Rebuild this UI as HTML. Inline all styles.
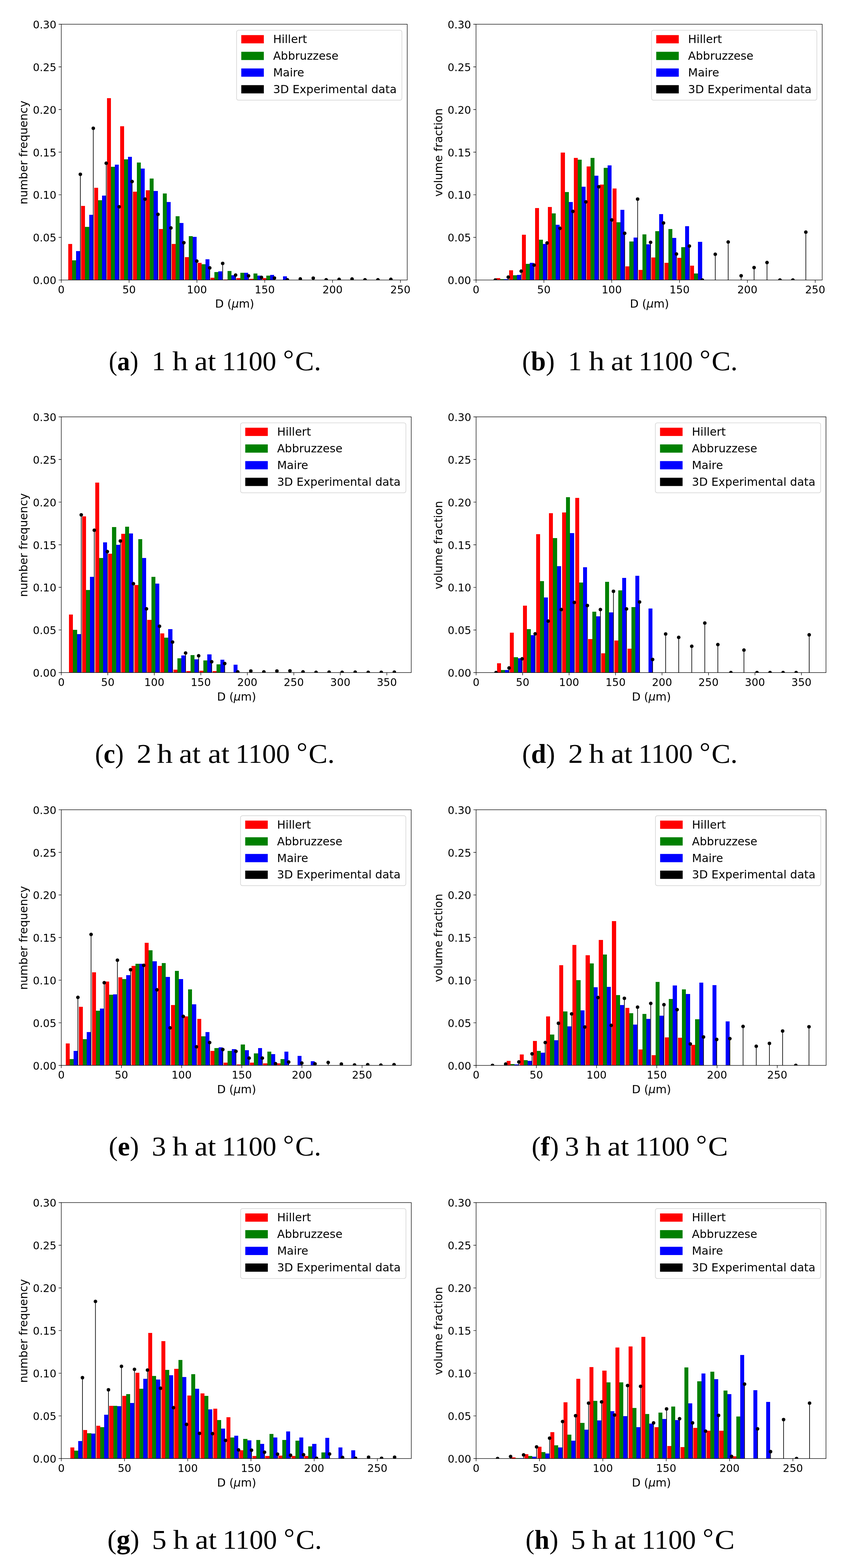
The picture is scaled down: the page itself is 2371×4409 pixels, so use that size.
<!DOCTYPE html>
<html><head><meta charset="utf-8"><title>Grain size distributions</title>
<style>
html,body{margin:0;padding:0;background:#fff;}
body{width:2371px;height:4409px;}
svg{display:block;}
</style></head><body>
<svg width="2371" height="4409" viewBox="0 0 2371 4409">
<rect width="2371" height="4409" fill="#fff"/>
<g id="panel-a">
<clipPath id="clip-a"><rect x="172.4" y="68.2" width="973" height="719.2"/></clipPath>
<g clip-path="url(#clip-a)">
<path fill="#ff0000" shape-rendering="crispEdges" d="M192.01 685.75h11.06v101.65h-11.06zM228.4 579.07h11.06v208.33h-11.06zM264.79 528.49h11.06v258.91h-11.06zM301.18 275.81h11.06v511.59h-11.06zM337.57 354.92h11.06v432.48h-11.06zM373.96 539.04h11.06v248.36h-11.06zM410.35 534.96h11.06v252.44h-11.06zM446.74 644.04h11.06v143.36h-11.06zM483.13 685.99h11.06v101.41h-11.06zM519.52 723.15h11.06v64.25h-11.06zM555.91 738.97h11.06v48.43h-11.06zM592.3 781.17h11.06v6.23h-11.06zM628.69 786.2h11.06v1.2h-11.06zM665.08 782.13h11.06v5.27h-11.06zM701.47 784.04h11.06v3.36h-11.06zM737.86 782.13h11.06v5.27h-11.06z"/>
<path fill="#008000" shape-rendering="crispEdges" d="M203.07 732.02h11.06v55.38h-11.06zM239.46 638.05h11.06v149.35h-11.06zM275.85 562.77h11.06v224.63h-11.06zM312.24 469.03h11.06v318.37h-11.06zM348.63 447.94h11.06v339.46h-11.06zM385.02 457.05h11.06v330.35h-11.06zM421.41 501.88h11.06v285.52h-11.06zM457.8 544.07h11.06v243.33h-11.06zM494.19 608.08h11.06v179.32h-11.06zM530.58 664.18h11.06v123.22h-11.06zM566.97 743.05h11.06v44.35h-11.06zM603.36 765.1h11.06v22.3h-11.06zM639.75 762.23h11.06v25.17h-11.06zM676.14 767.26h11.06v20.14h-11.06zM712.53 769.18h11.06v18.22h-11.06zM748.92 775.17h11.06v12.23h-11.06z"/>
<path fill="#0000ff" shape-rendering="crispEdges" d="M214.14 705.89h11.06v81.51h-11.06zM250.53 604h11.06v183.4h-11.06zM286.92 550.06h11.06v237.34h-11.06zM323.31 463.04h11.06v324.36h-11.06zM359.7 440.99h11.06v346.41h-11.06zM396.09 474.07h11.06v313.33h-11.06zM432.48 536.88h11.06v250.52h-11.06zM468.87 568.04h11.06v219.36h-11.06zM505.26 627.02h11.06v160.38h-11.06zM541.65 666.09h11.06v121.31h-11.06zM578.04 729.14h11.06v58.26h-11.06zM614.43 763.19h11.06v24.21h-11.06zM650.82 774.21h11.06v13.19h-11.06zM687.21 767.26h11.06v20.14h-11.06zM723.6 775.17h11.06v12.23h-11.06zM759.99 773.02h11.06v14.38h-11.06zM796.38 777.09h11.06v10.31h-11.06z"/>
<path stroke="#000" stroke-width="1.8" fill="none" d="M226 787.4V490.13M262.39 787.4V360.67M298.78 787.4V458.97M335.17 787.4V581.47M371.56 787.4V510.51M407.95 787.4V559.89M444.34 787.4V602.81M480.73 787.4V640.92M517.12 787.4V682.4M553.51 787.4V734.18M589.9 787.4V753.36M626.29 787.4V740.65M662.68 787.4V773.5M699.07 787.4V775.65M735.46 787.4V779.97M771.85 787.4V781.89M844.63 787.4V784.28M881.02 787.4V782.13M990.19 787.4V784.52"/>
<g fill="#000"><circle cx="226" cy="490.13" r="5"/><circle cx="262.39" cy="360.67" r="5"/><circle cx="298.78" cy="458.97" r="5"/><circle cx="335.17" cy="581.47" r="5"/><circle cx="371.56" cy="510.51" r="5"/><circle cx="407.95" cy="559.89" r="5"/><circle cx="444.34" cy="602.81" r="5"/><circle cx="480.73" cy="640.92" r="5"/><circle cx="517.12" cy="682.4" r="5"/><circle cx="553.51" cy="734.18" r="5"/><circle cx="589.9" cy="753.36" r="5"/><circle cx="626.29" cy="740.65" r="5"/><circle cx="662.68" cy="773.5" r="5"/><circle cx="699.07" cy="775.65" r="5"/><circle cx="735.46" cy="779.97" r="5"/><circle cx="771.85" cy="781.89" r="5"/><circle cx="808.24" cy="786.68" r="5"/><circle cx="844.63" cy="784.28" r="5"/><circle cx="881.02" cy="782.13" r="5"/><circle cx="917.41" cy="786.68" r="5"/><circle cx="953.8" cy="785.48" r="5"/><circle cx="990.19" cy="784.52" r="5"/><circle cx="1026.58" cy="786.68" r="5"/><circle cx="1062.97" cy="786.68" r="5"/><circle cx="1099.36" cy="785.48" r="5"/></g>
</g>
<rect x="172.4" y="68.2" width="973" height="719.2" fill="none" stroke="#000" stroke-width="1.4"/>
<path stroke="#000" stroke-width="1.4" fill="none" d="M164.9 787.4H172.4M164.9 667.53H172.4M164.9 547.67H172.4M164.9 427.8H172.4M164.9 307.93H172.4M164.9 188.07H172.4M164.9 68.2H172.4M172.3 787.4V794.9M363.08 787.4V794.9M553.86 787.4V794.9M744.64 787.4V794.9M935.42 787.4V794.9M1126.2 787.4V794.9"/>
<g font-family="'DejaVu Sans', 'Liberation Sans', sans-serif" font-size="29.7" fill="#000">
<text transform="translate(158.6 799.2) scale(1 1.04)" text-anchor="end">0.00</text>
<text transform="translate(158.6 679.33) scale(1 1.04)" text-anchor="end">0.05</text>
<text transform="translate(158.6 559.47) scale(1 1.04)" text-anchor="end">0.10</text>
<text transform="translate(158.6 439.6) scale(1 1.04)" text-anchor="end">0.15</text>
<text transform="translate(158.6 319.73) scale(1 1.04)" text-anchor="end">0.20</text>
<text transform="translate(158.6 199.87) scale(1 1.04)" text-anchor="end">0.25</text>
<text transform="translate(158.6 80) scale(1 1.04)" text-anchor="end">0.30</text>
<text transform="translate(172.3 824.7) scale(1 1.04)" text-anchor="middle">0</text>
<text transform="translate(363.08 824.7) scale(1 1.04)" text-anchor="middle">50</text>
<text transform="translate(553.86 824.7) scale(1 1.04)" text-anchor="middle">100</text>
<text transform="translate(744.64 824.7) scale(1 1.04)" text-anchor="middle">150</text>
<text transform="translate(935.42 824.7) scale(1 1.04)" text-anchor="middle">200</text>
<text transform="translate(1126.2 824.7) scale(1 1.04)" text-anchor="middle">250</text>
</g>
<text x="659.9" y="864.8" text-anchor="middle" font-family="'DejaVu Sans', 'Liberation Sans', sans-serif" font-size="31.6">D (<tspan font-style="italic">μ</tspan>m)</text>
<text transform="translate(77.4 428.8) rotate(-90)" text-anchor="middle" font-family="'DejaVu Sans', 'Liberation Sans', sans-serif" font-size="31.6">number frequency</text>
<rect x="665.4" y="85" width="465" height="196.7" rx="5.5" fill="#fff" fill-opacity="0.8" stroke="#d4d4d4" stroke-width="1.7"/>
<rect x="678.6" y="98.7" width="63.4" height="23.2" fill="#ff0000"/>
<text x="768.2" y="121" font-family="'DejaVu Sans', 'Liberation Sans', sans-serif" font-size="31.7">Hillert</text>
<rect x="678.6" y="145.6" width="63.4" height="23.2" fill="#008000"/>
<text x="768.2" y="167.9" font-family="'DejaVu Sans', 'Liberation Sans', sans-serif" font-size="31.7">Abbruzzese</text>
<rect x="678.6" y="192.5" width="63.4" height="23.2" fill="#0000ff"/>
<text x="768.2" y="214.8" font-family="'DejaVu Sans', 'Liberation Sans', sans-serif" font-size="31.7">Maire</text>
<rect x="678.6" y="239.4" width="63.4" height="23.2" fill="#000000"/>
<text x="768.2" y="261.7" font-family="'DejaVu Sans', 'Liberation Sans', sans-serif" font-size="31.7">3D Experimental data</text>
<g font-family="'Liberation Serif', 'DejaVu Serif', serif" fill="#000">
<text x="305.97" y="1041" font-size="77" textLength="83.17" lengthAdjust="spacingAndGlyphs">(<tspan font-weight="bold">a</tspan>)</text>
<text x="426.83" y="1041" font-size="77" textLength="38.49" lengthAdjust="spacingAndGlyphs">1</text>
<text x="484.74" y="1041" font-size="77" textLength="44.23" lengthAdjust="spacingAndGlyphs">h</text>
<text x="546.95" y="1041" font-size="77" textLength="60.54" lengthAdjust="spacingAndGlyphs">at</text>
<text x="624.48" y="1041" font-size="77" textLength="152.83" lengthAdjust="spacingAndGlyphs">1100</text>
<text x="796.25" y="1035.4" font-size="74" textLength="30.47" lengthAdjust="spacingAndGlyphs">°</text>
<text x="830.13" y="1041" font-size="77" textLength="73.13" lengthAdjust="spacingAndGlyphs">C.</text>
</g>
</g>
<g id="panel-b">
<clipPath id="clip-b"><rect x="1338.8" y="68.2" width="973.7" height="719.2"/></clipPath>
<g clip-path="url(#clip-b)">
<path fill="#ff0000" shape-rendering="crispEdges" d="M1395.5 782.13h11.06v5.27h-11.06zM1431.89 760.07h11.06v27.33h-11.06zM1468.28 660.1h11.06v127.3h-11.06zM1504.67 585.07h11.06v202.33h-11.06zM1541.06 581.95h11.06v205.45h-11.06zM1577.45 428.76h11.06v358.64h-11.06zM1613.84 444.1h11.06v343.3h-11.06zM1650.23 467.84h11.06v319.56h-11.06zM1686.62 518.9h11.06v268.5h-11.06zM1723.01 529.93h11.06v257.47h-11.06zM1759.4 749.04h11.06v38.36h-11.06zM1795.79 759.11h11.06v28.29h-11.06zM1832.18 723.87h11.06v63.53h-11.06zM1868.57 738.97h11.06v48.43h-11.06zM1904.96 724.83h11.06v62.57h-11.06zM1941.35 747.12h11.06v40.28h-11.06z"/>
<path fill="#008000" shape-rendering="crispEdges" d="M1406.56 785.48h11.06v1.92h-11.06zM1442.95 774.45h11.06v12.95h-11.06zM1479.34 741.85h11.06v45.55h-11.06zM1515.73 674.25h11.06v113.15h-11.06zM1552.12 599.93h11.06v187.47h-11.06zM1588.51 540h11.06v247.4h-11.06zM1624.9 448.9h11.06v338.5h-11.06zM1661.29 444.1h11.06v343.3h-11.06zM1697.68 471.67h11.06v315.73h-11.06zM1734.07 625.1h11.06v162.3h-11.06zM1770.46 679.04h11.06v108.36h-11.06zM1806.85 658.9h11.06v128.5h-11.06zM1843.24 649.79h11.06v137.61h-11.06zM1879.63 644.28h11.06v143.12h-11.06zM1916.02 695.34h11.06v92.06h-11.06zM1952.41 768.94h11.06v18.46h-11.06z"/>
<path fill="#0000ff" shape-rendering="crispEdges" d="M1417.63 785.48h11.06v1.92h-11.06zM1454.02 773.02h11.06v14.38h-11.06zM1490.41 739.21h11.06v48.19h-11.06zM1526.8 685.99h11.06v101.41h-11.06zM1563.19 631.81h11.06v155.59h-11.06zM1599.58 568.04h11.06v219.36h-11.06zM1635.97 525.13h11.06v262.27h-11.06zM1672.36 493.73h11.06v293.67h-11.06zM1708.75 464.96h11.06v322.44h-11.06zM1745.14 589.86h11.06v197.54h-11.06zM1781.53 668.01h11.06v119.39h-11.06zM1817.92 687.19h11.06v100.21h-11.06zM1854.31 601.85h11.06v185.55h-11.06zM1890.7 669.21h11.06v118.19h-11.06zM1927.09 636.13h11.06v151.27h-11.06zM1963.48 679.76h11.06v107.64h-11.06z"/>
<path stroke="#000" stroke-width="1.8" fill="none" d="M1429.49 787.4V779.25M1465.88 787.4V762.47M1502.27 787.4V745.45M1538.66 787.4V683.36M1575.05 787.4V642.12M1611.44 787.4V594.41M1647.83 787.4V567.8M1684.22 787.4V525.13M1720.61 787.4V618.39M1757 787.4V656.03M1793.39 787.4V559.89M1829.78 787.4V681.44M1866.17 787.4V627.02M1902.56 787.4V714.28M1938.95 787.4V691.99M2011.73 787.4V715M2048.12 787.4V680.48M2084.51 787.4V775.41M2120.9 787.4V752.4M2157.29 787.4V738.25M2266.46 787.4V652.67"/>
<g fill="#000"><circle cx="1393.1" cy="787.4" r="5"/><circle cx="1429.49" cy="779.25" r="5"/><circle cx="1465.88" cy="762.47" r="5"/><circle cx="1502.27" cy="745.45" r="5"/><circle cx="1538.66" cy="683.36" r="5"/><circle cx="1575.05" cy="642.12" r="5"/><circle cx="1611.44" cy="594.41" r="5"/><circle cx="1647.83" cy="567.8" r="5"/><circle cx="1684.22" cy="525.13" r="5"/><circle cx="1720.61" cy="618.39" r="5"/><circle cx="1757" cy="656.03" r="5"/><circle cx="1793.39" cy="559.89" r="5"/><circle cx="1829.78" cy="681.44" r="5"/><circle cx="1866.17" cy="627.02" r="5"/><circle cx="1902.56" cy="714.28" r="5"/><circle cx="1938.95" cy="691.99" r="5"/><circle cx="1975.34" cy="787.4" r="5"/><circle cx="2011.73" cy="715" r="5"/><circle cx="2048.12" cy="680.48" r="5"/><circle cx="2084.51" cy="775.41" r="5"/><circle cx="2120.9" cy="752.4" r="5"/><circle cx="2157.29" cy="738.25" r="5"/><circle cx="2193.68" cy="787.4" r="5"/><circle cx="2230.07" cy="787.4" r="5"/><circle cx="2266.46" cy="652.67" r="5"/></g>
</g>
<rect x="1338.8" y="68.2" width="973.7" height="719.2" fill="none" stroke="#000" stroke-width="1.4"/>
<path stroke="#000" stroke-width="1.4" fill="none" d="M1331.3 787.4H1338.8M1331.3 667.53H1338.8M1331.3 547.67H1338.8M1331.3 427.8H1338.8M1331.3 307.93H1338.8M1331.3 188.07H1338.8M1331.3 68.2H1338.8M1339 787.4V794.9M1529.75 787.4V794.9M1720.5 787.4V794.9M1911.25 787.4V794.9M2102 787.4V794.9M2292.75 787.4V794.9"/>
<g font-family="'DejaVu Sans', 'Liberation Sans', sans-serif" font-size="29.7" fill="#000">
<text transform="translate(1325 799.2) scale(1 1.04)" text-anchor="end">0.00</text>
<text transform="translate(1325 679.33) scale(1 1.04)" text-anchor="end">0.05</text>
<text transform="translate(1325 559.47) scale(1 1.04)" text-anchor="end">0.10</text>
<text transform="translate(1325 439.6) scale(1 1.04)" text-anchor="end">0.15</text>
<text transform="translate(1325 319.73) scale(1 1.04)" text-anchor="end">0.20</text>
<text transform="translate(1325 199.87) scale(1 1.04)" text-anchor="end">0.25</text>
<text transform="translate(1325 80) scale(1 1.04)" text-anchor="end">0.30</text>
<text transform="translate(1339 824.7) scale(1 1.04)" text-anchor="middle">0</text>
<text transform="translate(1529.75 824.7) scale(1 1.04)" text-anchor="middle">50</text>
<text transform="translate(1720.5 824.7) scale(1 1.04)" text-anchor="middle">100</text>
<text transform="translate(1911.25 824.7) scale(1 1.04)" text-anchor="middle">150</text>
<text transform="translate(2102 824.7) scale(1 1.04)" text-anchor="middle">200</text>
<text transform="translate(2292.75 824.7) scale(1 1.04)" text-anchor="middle">250</text>
</g>
<text x="1826.65" y="864.8" text-anchor="middle" font-family="'DejaVu Sans', 'Liberation Sans', sans-serif" font-size="31.6">D (<tspan font-style="italic">μ</tspan>m)</text>
<text transform="translate(1243.8 428.8) rotate(-90)" text-anchor="middle" font-family="'DejaVu Sans', 'Liberation Sans', sans-serif" font-size="31.6">volume fraction</text>
<rect x="1832.5" y="85" width="465" height="196.7" rx="5.5" fill="#fff" fill-opacity="0.8" stroke="#d4d4d4" stroke-width="1.7"/>
<rect x="1845.7" y="98.7" width="63.4" height="23.2" fill="#ff0000"/>
<text x="1935.3" y="121" font-family="'DejaVu Sans', 'Liberation Sans', sans-serif" font-size="31.7">Hillert</text>
<rect x="1845.7" y="145.6" width="63.4" height="23.2" fill="#008000"/>
<text x="1935.3" y="167.9" font-family="'DejaVu Sans', 'Liberation Sans', sans-serif" font-size="31.7">Abbruzzese</text>
<rect x="1845.7" y="192.5" width="63.4" height="23.2" fill="#0000ff"/>
<text x="1935.3" y="214.8" font-family="'DejaVu Sans', 'Liberation Sans', sans-serif" font-size="31.7">Maire</text>
<rect x="1845.7" y="239.4" width="63.4" height="23.2" fill="#000000"/>
<text x="1935.3" y="261.7" font-family="'DejaVu Sans', 'Liberation Sans', sans-serif" font-size="31.7">3D Experimental data</text>
<g font-family="'Liberation Serif', 'DejaVu Serif', serif" fill="#000">
<text x="1468.61" y="1041" font-size="77" textLength="91.48" lengthAdjust="spacingAndGlyphs">(<tspan font-weight="bold">b</tspan>)</text>
<text x="1597.63" y="1041" font-size="77" textLength="38.49" lengthAdjust="spacingAndGlyphs">1</text>
<text x="1656.14" y="1041" font-size="77" textLength="44.23" lengthAdjust="spacingAndGlyphs">h</text>
<text x="1718.35" y="1041" font-size="77" textLength="60.54" lengthAdjust="spacingAndGlyphs">at</text>
<text x="1795.88" y="1041" font-size="77" textLength="152.83" lengthAdjust="spacingAndGlyphs">1100</text>
<text x="1967.65" y="1035.4" font-size="74" textLength="30.47" lengthAdjust="spacingAndGlyphs">°</text>
<text x="2001.53" y="1041" font-size="77" textLength="73.13" lengthAdjust="spacingAndGlyphs">C.</text>
</g>
</g>
<g id="panel-c">
<clipPath id="clip-c"><rect x="172.4" y="1172.2" width="984.2" height="719"/></clipPath>
<g clip-path="url(#clip-c)">
<path fill="#ff0000" shape-rendering="crispEdges" d="M194.24 1728.23h11.15v162.97h-11.15zM230.93 1451.89h11.15v439.31h-11.15zM267.62 1356.74h11.15v534.46h-11.15zM304.31 1557.1h11.15v334.1h-11.15zM341 1501.02h11.15v390.18h-11.15zM377.69 1645.06h11.15v246.14h-11.15zM414.38 1743.09h11.15v148.11h-11.15zM451.07 1781.19h11.15v110.01h-11.15zM487.76 1883.29h11.15v7.91h-11.15zM524.45 1887.37h11.15v3.83h-11.15zM561.14 1886.17h11.15v5.03h-11.15zM597.83 1887.37h11.15v3.83h-11.15z"/>
<path fill="#008000" shape-rendering="crispEdges" d="M205.39 1770.89h11.15v120.31h-11.15zM242.08 1658.96h11.15v232.24h-11.15zM278.77 1568.85h11.15v322.35h-11.15zM315.46 1481.85h11.15v409.35h-11.15zM352.15 1480.89h11.15v410.31h-11.15zM388.84 1516.12h11.15v375.08h-11.15zM425.53 1621.81h11.15v269.39h-11.15zM462.22 1792.94h11.15v98.26h-11.15zM498.91 1850.94h11.15v40.26h-11.15zM535.6 1841.83h11.15v49.37h-11.15zM572.29 1857.17h11.15v34.03h-11.15zM608.98 1868.19h11.15v23.01h-11.15z"/>
<path fill="#0000ff" shape-rendering="crispEdges" d="M216.55 1783.11h11.15v108.09h-11.15zM253.24 1621.81h11.15v269.39h-11.15zM289.93 1524.99h11.15v366.21h-11.15zM326.62 1531.94h11.15v359.26h-11.15zM363.31 1500.06h11.15v391.14h-11.15zM400 1568.85h11.15v322.35h-11.15zM436.69 1640.75h11.15v250.45h-11.15zM473.38 1769.21h11.15v121.99h-11.15zM510.07 1843.27h11.15v47.93h-11.15zM546.76 1854.29h11.15v36.91h-11.15zM583.45 1840.15h11.15v51.05h-11.15zM620.14 1855.25h11.15v35.95h-11.15zM656.83 1869.15h11.15v22.05h-11.15z"/>
<path stroke="#000" stroke-width="1.8" fill="none" d="M228.5 1891.2V1447.82M265.19 1891.2V1490.96M301.88 1891.2V1551.11M338.57 1891.2V1521.15M375.26 1891.2V1641.23M411.95 1891.2V1711.93M448.64 1891.2V1761.06M485.33 1891.2V1805.4M522.02 1891.2V1836.32M558.71 1891.2V1843.99M595.4 1891.2V1860.76M632.09 1891.2V1865.8M705.47 1891.2V1886.89M778.85 1891.2V1886.89M815.54 1891.2V1886.41"/>
<g fill="#000"><circle cx="228.5" cy="1447.82" r="5"/><circle cx="265.19" cy="1490.96" r="5"/><circle cx="301.88" cy="1551.11" r="5"/><circle cx="338.57" cy="1521.15" r="5"/><circle cx="375.26" cy="1641.23" r="5"/><circle cx="411.95" cy="1711.93" r="5"/><circle cx="448.64" cy="1761.06" r="5"/><circle cx="485.33" cy="1805.4" r="5"/><circle cx="522.02" cy="1836.32" r="5"/><circle cx="558.71" cy="1843.99" r="5"/><circle cx="595.4" cy="1860.76" r="5"/><circle cx="632.09" cy="1865.8" r="5"/><circle cx="668.78" cy="1889.28" r="5"/><circle cx="705.47" cy="1886.89" r="5"/><circle cx="742.16" cy="1889.28" r="5"/><circle cx="778.85" cy="1886.89" r="5"/><circle cx="815.54" cy="1886.41" r="5"/><circle cx="852.23" cy="1889.28" r="5"/><circle cx="888.92" cy="1890.48" r="5"/><circle cx="925.61" cy="1890" r="5"/><circle cx="962.3" cy="1890.48" r="5"/><circle cx="998.99" cy="1890" r="5"/><circle cx="1035.68" cy="1890.48" r="5"/><circle cx="1072.37" cy="1890.48" r="5"/><circle cx="1109.06" cy="1890" r="5"/></g>
</g>
<rect x="172.4" y="1172.2" width="984.2" height="719" fill="none" stroke="#000" stroke-width="1.4"/>
<path stroke="#000" stroke-width="1.4" fill="none" d="M164.9 1891.2H172.4M164.9 1771.37H172.4M164.9 1651.53H172.4M164.9 1531.7H172.4M164.9 1411.87H172.4M164.9 1292.03H172.4M164.9 1172.2H172.4M172.4 1891.2V1898.7M303.2 1891.2V1898.7M434 1891.2V1898.7M564.8 1891.2V1898.7M695.6 1891.2V1898.7M826.4 1891.2V1898.7M957.2 1891.2V1898.7M1088 1891.2V1898.7"/>
<g font-family="'DejaVu Sans', 'Liberation Sans', sans-serif" font-size="29.7" fill="#000">
<text transform="translate(158.6 1903) scale(1 1.04)" text-anchor="end">0.00</text>
<text transform="translate(158.6 1783.17) scale(1 1.04)" text-anchor="end">0.05</text>
<text transform="translate(158.6 1663.33) scale(1 1.04)" text-anchor="end">0.10</text>
<text transform="translate(158.6 1543.5) scale(1 1.04)" text-anchor="end">0.15</text>
<text transform="translate(158.6 1423.67) scale(1 1.04)" text-anchor="end">0.20</text>
<text transform="translate(158.6 1303.83) scale(1 1.04)" text-anchor="end">0.25</text>
<text transform="translate(158.6 1184) scale(1 1.04)" text-anchor="end">0.30</text>
<text transform="translate(172.4 1928.5) scale(1 1.04)" text-anchor="middle">0</text>
<text transform="translate(303.2 1928.5) scale(1 1.04)" text-anchor="middle">50</text>
<text transform="translate(434 1928.5) scale(1 1.04)" text-anchor="middle">100</text>
<text transform="translate(564.8 1928.5) scale(1 1.04)" text-anchor="middle">150</text>
<text transform="translate(695.6 1928.5) scale(1 1.04)" text-anchor="middle">200</text>
<text transform="translate(826.4 1928.5) scale(1 1.04)" text-anchor="middle">250</text>
<text transform="translate(957.2 1928.5) scale(1 1.04)" text-anchor="middle">300</text>
<text transform="translate(1088 1928.5) scale(1 1.04)" text-anchor="middle">350</text>
</g>
<text x="665.5" y="1969.8" text-anchor="middle" font-family="'DejaVu Sans', 'Liberation Sans', sans-serif" font-size="31.6">D (<tspan font-style="italic">μ</tspan>m)</text>
<text transform="translate(77.4 1532.7) rotate(-90)" text-anchor="middle" font-family="'DejaVu Sans', 'Liberation Sans', sans-serif" font-size="31.6">number frequency</text>
<rect x="676.6" y="1189" width="465" height="196.7" rx="5.5" fill="#fff" fill-opacity="0.8" stroke="#d4d4d4" stroke-width="1.7"/>
<rect x="689.8" y="1202.7" width="63.4" height="23.2" fill="#ff0000"/>
<text x="779.4" y="1225" font-family="'DejaVu Sans', 'Liberation Sans', sans-serif" font-size="31.7">Hillert</text>
<rect x="689.8" y="1249.6" width="63.4" height="23.2" fill="#008000"/>
<text x="779.4" y="1271.9" font-family="'DejaVu Sans', 'Liberation Sans', sans-serif" font-size="31.7">Abbruzzese</text>
<rect x="689.8" y="1296.5" width="63.4" height="23.2" fill="#0000ff"/>
<text x="779.4" y="1318.8" font-family="'DejaVu Sans', 'Liberation Sans', sans-serif" font-size="31.7">Maire</text>
<rect x="689.8" y="1343.4" width="63.4" height="23.2" fill="#000000"/>
<text x="779.4" y="1365.7" font-family="'DejaVu Sans', 'Liberation Sans', sans-serif" font-size="31.7">3D Experimental data</text>
<g font-family="'Liberation Serif', 'DejaVu Serif', serif" fill="#000">
<text x="267.31" y="2145" font-size="77" textLength="80.69" lengthAdjust="spacingAndGlyphs">(<tspan font-weight="bold">c</tspan>)</text>
<text x="384.44" y="2145" font-size="77" textLength="41.66" lengthAdjust="spacingAndGlyphs">2</text>
<text x="441.54" y="2145" font-size="77" textLength="44.23" lengthAdjust="spacingAndGlyphs">h</text>
<text x="503.75" y="2145" font-size="77" textLength="60.54" lengthAdjust="spacingAndGlyphs">at</text>
<text x="584.95" y="2145" font-size="77" textLength="60.54" lengthAdjust="spacingAndGlyphs">at</text>
<text x="662.48" y="2145" font-size="77" textLength="152.83" lengthAdjust="spacingAndGlyphs">1100</text>
<text x="834.25" y="2139.4" font-size="74" textLength="30.47" lengthAdjust="spacingAndGlyphs">°</text>
<text x="868.13" y="2145" font-size="77" textLength="73.13" lengthAdjust="spacingAndGlyphs">C.</text>
</g>
</g>
<g id="panel-d">
<clipPath id="clip-d"><rect x="1339.1" y="1172.2" width="984.1" height="719.1"/></clipPath>
<g clip-path="url(#clip-d)">
<path fill="#ff0000" shape-rendering="crispEdges" d="M1397.53 1864.93h11.16v26.37h-11.16zM1434.23 1778.88h11.16v112.42h-11.16zM1470.93 1702.66h11.16v188.64h-11.16zM1507.63 1501.79h11.16v389.51h-11.16zM1544.33 1442.82h11.16v448.48h-11.16zM1581.03 1440.66h11.16v450.64h-11.16zM1617.73 1399.68h11.16v491.62h-11.16zM1654.43 1796.86h11.16v94.44h-11.16zM1691.13 1836.89h11.16v54.41h-11.16zM1727.83 1800.93h11.16v90.37h-11.16zM1764.53 1823.94h11.16v67.36h-11.16z"/>
<path fill="#008000" shape-rendering="crispEdges" d="M1408.69 1883.87h11.16v7.43h-11.16zM1445.39 1847.91h11.16v43.39h-11.16zM1482.09 1769.05h11.16v122.25h-11.16zM1518.79 1633.62h11.16v257.68h-11.16zM1555.49 1512.57h11.16v378.73h-11.16zM1592.19 1397.52h11.16v493.78h-11.16zM1628.89 1637.94h11.16v253.36h-11.16zM1665.59 1719.91h11.16v171.39h-11.16zM1702.29 1635.78h11.16v255.52h-11.16zM1738.99 1659.99h11.16v231.31h-11.16zM1775.69 1706.73h11.16v184.57h-11.16z"/>
<path fill="#0000ff" shape-rendering="crispEdges" d="M1419.84 1883.87h11.16v7.43h-11.16zM1456.54 1851.03h11.16v40.27h-11.16zM1493.24 1785.83h11.16v105.47h-11.16zM1529.94 1679.88h11.16v211.42h-11.16zM1566.64 1591.67h11.16v299.62h-11.16zM1603.34 1498.67h11.16v392.63h-11.16zM1640.04 1594.79h11.16v296.51h-11.16zM1676.74 1732.86h11.16v158.44h-11.16zM1713.44 1721.83h11.16v169.47h-11.16zM1750.14 1624.99h11.16v266.31h-11.16zM1786.84 1618.76h11.16v272.54h-11.16zM1823.54 1710.81h11.16v180.49h-11.16z"/>
<path stroke="#000" stroke-width="1.8" fill="none" d="M1431.8 1891.3V1878.36M1468.5 1891.3V1852.47M1505.2 1891.3V1782.24M1541.9 1891.3V1746.52M1578.6 1891.3V1713.92M1615.3 1891.3V1694.03M1652 1891.3V1702.66M1688.7 1891.3V1713.92M1725.4 1891.3V1662.63M1762.1 1891.3V1712.24M1798.8 1891.3V1692.83M1835.5 1891.3V1854.39M1872.2 1891.3V1782.72M1908.9 1891.3V1792.3M1945.6 1891.3V1817.23M1982.3 1891.3V1752.03M2019 1891.3V1812.44M2092.4 1891.3V1828.02M2275.9 1891.3V1785.11"/>
<g fill="#000"><circle cx="1395.1" cy="1891.3" r="5"/><circle cx="1431.8" cy="1878.36" r="5"/><circle cx="1468.5" cy="1852.47" r="5"/><circle cx="1505.2" cy="1782.24" r="5"/><circle cx="1541.9" cy="1746.52" r="5"/><circle cx="1578.6" cy="1713.92" r="5"/><circle cx="1615.3" cy="1694.03" r="5"/><circle cx="1652" cy="1702.66" r="5"/><circle cx="1688.7" cy="1713.92" r="5"/><circle cx="1725.4" cy="1662.63" r="5"/><circle cx="1762.1" cy="1712.24" r="5"/><circle cx="1798.8" cy="1692.83" r="5"/><circle cx="1835.5" cy="1854.39" r="5"/><circle cx="1872.2" cy="1782.72" r="5"/><circle cx="1908.9" cy="1792.3" r="5"/><circle cx="1945.6" cy="1817.23" r="5"/><circle cx="1982.3" cy="1752.03" r="5"/><circle cx="2019" cy="1812.44" r="5"/><circle cx="2055.7" cy="1891.3" r="5"/><circle cx="2092.4" cy="1828.02" r="5"/><circle cx="2129.1" cy="1891.3" r="5"/><circle cx="2165.8" cy="1891.3" r="5"/><circle cx="2202.5" cy="1891.3" r="5"/><circle cx="2239.2" cy="1891.3" r="5"/><circle cx="2275.9" cy="1785.11" r="5"/></g>
</g>
<rect x="1339.1" y="1172.2" width="984.1" height="719.1" fill="none" stroke="#000" stroke-width="1.4"/>
<path stroke="#000" stroke-width="1.4" fill="none" d="M1331.6 1891.3H1339.1M1331.6 1771.45H1339.1M1331.6 1651.6H1339.1M1331.6 1531.75H1339.1M1331.6 1411.9H1339.1M1331.6 1292.05H1339.1M1331.6 1172.2H1339.1M1339.2 1891.3V1898.8M1469.9 1891.3V1898.8M1600.6 1891.3V1898.8M1731.3 1891.3V1898.8M1862 1891.3V1898.8M1992.7 1891.3V1898.8M2123.4 1891.3V1898.8M2254.1 1891.3V1898.8"/>
<g font-family="'DejaVu Sans', 'Liberation Sans', sans-serif" font-size="29.7" fill="#000">
<text transform="translate(1325.3 1903.1) scale(1 1.04)" text-anchor="end">0.00</text>
<text transform="translate(1325.3 1783.25) scale(1 1.04)" text-anchor="end">0.05</text>
<text transform="translate(1325.3 1663.4) scale(1 1.04)" text-anchor="end">0.10</text>
<text transform="translate(1325.3 1543.55) scale(1 1.04)" text-anchor="end">0.15</text>
<text transform="translate(1325.3 1423.7) scale(1 1.04)" text-anchor="end">0.20</text>
<text transform="translate(1325.3 1303.85) scale(1 1.04)" text-anchor="end">0.25</text>
<text transform="translate(1325.3 1184) scale(1 1.04)" text-anchor="end">0.30</text>
<text transform="translate(1339.2 1928.6) scale(1 1.04)" text-anchor="middle">0</text>
<text transform="translate(1469.9 1928.6) scale(1 1.04)" text-anchor="middle">50</text>
<text transform="translate(1600.6 1928.6) scale(1 1.04)" text-anchor="middle">100</text>
<text transform="translate(1731.3 1928.6) scale(1 1.04)" text-anchor="middle">150</text>
<text transform="translate(1862 1928.6) scale(1 1.04)" text-anchor="middle">200</text>
<text transform="translate(1992.7 1928.6) scale(1 1.04)" text-anchor="middle">250</text>
<text transform="translate(2123.4 1928.6) scale(1 1.04)" text-anchor="middle">300</text>
<text transform="translate(2254.1 1928.6) scale(1 1.04)" text-anchor="middle">350</text>
</g>
<text x="1832.15" y="1969.9" text-anchor="middle" font-family="'DejaVu Sans', 'Liberation Sans', sans-serif" font-size="31.6">D (<tspan font-style="italic">μ</tspan>m)</text>
<text transform="translate(1244.1 1532.75) rotate(-90)" text-anchor="middle" font-family="'DejaVu Sans', 'Liberation Sans', sans-serif" font-size="31.6">volume fraction</text>
<rect x="1843.2" y="1189" width="465" height="196.7" rx="5.5" fill="#fff" fill-opacity="0.8" stroke="#d4d4d4" stroke-width="1.7"/>
<rect x="1856.4" y="1202.7" width="63.4" height="23.2" fill="#ff0000"/>
<text x="1946" y="1225" font-family="'DejaVu Sans', 'Liberation Sans', sans-serif" font-size="31.7">Hillert</text>
<rect x="1856.4" y="1249.6" width="63.4" height="23.2" fill="#008000"/>
<text x="1946" y="1271.9" font-family="'DejaVu Sans', 'Liberation Sans', sans-serif" font-size="31.7">Abbruzzese</text>
<rect x="1856.4" y="1296.5" width="63.4" height="23.2" fill="#0000ff"/>
<text x="1946" y="1318.8" font-family="'DejaVu Sans', 'Liberation Sans', sans-serif" font-size="31.7">Maire</text>
<rect x="1856.4" y="1343.4" width="63.4" height="23.2" fill="#000000"/>
<text x="1946" y="1365.7" font-family="'DejaVu Sans', 'Liberation Sans', sans-serif" font-size="31.7">3D Experimental data</text>
<g font-family="'Liberation Serif', 'DejaVu Serif', serif" fill="#000">
<text x="1468.46" y="2145" font-size="77" textLength="92.77" lengthAdjust="spacingAndGlyphs">(<tspan font-weight="bold">d</tspan>)</text>
<text x="1598.24" y="2145" font-size="77" textLength="41.66" lengthAdjust="spacingAndGlyphs">2</text>
<text x="1655.94" y="2145" font-size="77" textLength="44.23" lengthAdjust="spacingAndGlyphs">h</text>
<text x="1718.15" y="2145" font-size="77" textLength="60.54" lengthAdjust="spacingAndGlyphs">at</text>
<text x="1795.68" y="2145" font-size="77" textLength="152.83" lengthAdjust="spacingAndGlyphs">1100</text>
<text x="1967.45" y="2139.4" font-size="74" textLength="30.47" lengthAdjust="spacingAndGlyphs">°</text>
<text x="2001.33" y="2145" font-size="77" textLength="73.13" lengthAdjust="spacingAndGlyphs">C.</text>
</g>
</g>
<g id="panel-e">
<clipPath id="clip-e"><rect x="172.4" y="2276.9" width="984.1" height="718.8"/></clipPath>
<g clip-path="url(#clip-e)">
<path fill="#ff0000" shape-rendering="crispEdges" d="M184.51 2934.12h11.26v61.58h-11.26zM221.56 2831.09h11.26v164.61h-11.26zM258.61 2734.3h11.26v261.4h-11.26zM295.66 2760.41h11.26v235.29h-11.26zM332.71 2748.19h11.26v247.51h-11.26zM369.76 2716.09h11.26v279.61h-11.26zM406.81 2651.39h11.26v344.31h-11.26zM443.86 2716.09h11.26v279.61h-11.26zM480.91 2826.06h11.26v169.64h-11.26zM517.96 2857.93h11.26v137.77h-11.26zM555.01 2865.12h11.26v130.58h-11.26zM592.06 2954.97h11.26v40.73h-11.26zM629.11 2988.03h11.26v7.67h-11.26zM666.16 2993.06h11.26v2.64h-11.26zM703.21 2988.03h11.26v7.67h-11.26zM740.26 2989.95h11.26v5.75h-11.26zM777.31 2989.95h11.26v5.75h-11.26z"/>
<path fill="#008000" shape-rendering="crispEdges" d="M195.77 2978.21h11.26v17.49h-11.26zM232.82 2922.38h11.26v73.32h-11.26zM269.87 2842.12h11.26v153.58h-11.26zM306.92 2797.31h11.26v198.39h-11.26zM343.97 2753.22h11.26v242.48h-11.26zM381.02 2710.1h11.26v285.6h-11.26zM418.07 2672.24h11.26v323.46h-11.26zM455.12 2708.18h11.26v287.52h-11.26zM492.17 2730.22h11.26v265.48h-11.26zM529.22 2782.22h11.26v213.48h-11.26zM566.27 2914h11.26v81.7h-11.26zM603.32 2947.06h11.26v48.64h-11.26zM640.37 2954.97h11.26v40.73h-11.26zM677.42 2937h11.26v58.7h-11.26zM714.47 2961.92h11.26v33.78h-11.26zM751.52 2956.88h11.26v38.82h-11.26zM788.57 2978.21h11.26v17.49h-11.26z"/>
<path fill="#0000ff" shape-rendering="crispEdges" d="M207.04 2954.97h11.26v40.73h-11.26zM244.09 2902.26h11.26v93.44h-11.26zM281.14 2836.13h11.26v159.57h-11.26zM318.19 2796.11h11.26v199.59h-11.26zM355.24 2742.2h11.26v253.5h-11.26zM392.29 2710.1h11.26v285.6h-11.26zM429.34 2703.39h11.26v292.31h-11.26zM466.39 2747h11.26v248.7h-11.26zM503.44 2752.51h11.26v243.19h-11.26zM540.49 2824.15h11.26v171.55h-11.26zM577.54 2902.26h11.26v93.44h-11.26zM614.59 2945.14h11.26v50.56h-11.26zM651.64 2949.94h11.26v45.76h-11.26zM688.69 2953.05h11.26v42.65h-11.26zM725.74 2947.06h11.26v48.64h-11.26zM762.79 2964.07h11.26v31.63h-11.26zM799.84 2956.88h11.26v38.82h-11.26zM836.89 2968.86h11.26v26.84h-11.26zM873.94 2983.96h11.26v11.74h-11.26z"/>
<path stroke="#000" stroke-width="1.8" fill="none" d="M219.1 2995.7V2804.5M256.15 2995.7V2627.43M293.2 2995.7V2763.29M330.25 2995.7V2700.03M367.3 2995.7V2726.63M404.35 2995.7V2714.41M441.4 2995.7V2783.17M478.45 2995.7V2890.28M515.5 2995.7V2857.93M552.55 2995.7V2943.47M589.6 2995.7V2931.49M626.65 2995.7V2951.13M663.7 2995.7V2956.17M700.75 2995.7V2975.33M737.8 2995.7V2975.33M774.85 2995.7V2990.91M811.9 2995.7V2986.36M848.95 2995.7V2989.23M886 2995.7V2991.39M923.05 2995.7V2987.55M960.1 2995.7V2992.11"/>
<g fill="#000"><circle cx="219.1" cy="2804.5" r="5"/><circle cx="256.15" cy="2627.43" r="5"/><circle cx="293.2" cy="2763.29" r="5"/><circle cx="330.25" cy="2700.03" r="5"/><circle cx="367.3" cy="2726.63" r="5"/><circle cx="404.35" cy="2714.41" r="5"/><circle cx="441.4" cy="2783.17" r="5"/><circle cx="478.45" cy="2890.28" r="5"/><circle cx="515.5" cy="2857.93" r="5"/><circle cx="552.55" cy="2943.47" r="5"/><circle cx="589.6" cy="2931.49" r="5"/><circle cx="626.65" cy="2951.13" r="5"/><circle cx="663.7" cy="2956.17" r="5"/><circle cx="700.75" cy="2975.33" r="5"/><circle cx="737.8" cy="2975.33" r="5"/><circle cx="774.85" cy="2990.91" r="5"/><circle cx="811.9" cy="2986.36" r="5"/><circle cx="848.95" cy="2989.23" r="5"/><circle cx="886" cy="2991.39" r="5"/><circle cx="923.05" cy="2987.55" r="5"/><circle cx="960.1" cy="2992.11" r="5"/><circle cx="997.15" cy="2994.5" r="5"/><circle cx="1034.2" cy="2993.78" r="5"/><circle cx="1071.25" cy="2994.98" r="5"/><circle cx="1108.3" cy="2993.78" r="5"/></g>
</g>
<rect x="172.4" y="2276.9" width="984.1" height="718.8" fill="none" stroke="#000" stroke-width="1.4"/>
<path stroke="#000" stroke-width="1.4" fill="none" d="M164.9 2995.7H172.4M164.9 2875.9H172.4M164.9 2756.1H172.4M164.9 2636.3H172.4M164.9 2516.5H172.4M164.9 2396.7H172.4M164.9 2276.9H172.4M172.4 2995.7V3003.2M341.6 2995.7V3003.2M510.8 2995.7V3003.2M680 2995.7V3003.2M849.2 2995.7V3003.2M1018.4 2995.7V3003.2"/>
<g font-family="'DejaVu Sans', 'Liberation Sans', sans-serif" font-size="29.7" fill="#000">
<text transform="translate(158.6 3007.5) scale(1 1.04)" text-anchor="end">0.00</text>
<text transform="translate(158.6 2887.7) scale(1 1.04)" text-anchor="end">0.05</text>
<text transform="translate(158.6 2767.9) scale(1 1.04)" text-anchor="end">0.10</text>
<text transform="translate(158.6 2648.1) scale(1 1.04)" text-anchor="end">0.15</text>
<text transform="translate(158.6 2528.3) scale(1 1.04)" text-anchor="end">0.20</text>
<text transform="translate(158.6 2408.5) scale(1 1.04)" text-anchor="end">0.25</text>
<text transform="translate(158.6 2288.7) scale(1 1.04)" text-anchor="end">0.30</text>
<text transform="translate(172.4 3033) scale(1 1.04)" text-anchor="middle">0</text>
<text transform="translate(341.6 3033) scale(1 1.04)" text-anchor="middle">50</text>
<text transform="translate(510.8 3033) scale(1 1.04)" text-anchor="middle">100</text>
<text transform="translate(680 3033) scale(1 1.04)" text-anchor="middle">150</text>
<text transform="translate(849.2 3033) scale(1 1.04)" text-anchor="middle">200</text>
<text transform="translate(1018.4 3033) scale(1 1.04)" text-anchor="middle">250</text>
</g>
<text x="665.45" y="3073.7" text-anchor="middle" font-family="'DejaVu Sans', 'Liberation Sans', sans-serif" font-size="31.6">D (<tspan font-style="italic">μ</tspan>m)</text>
<text transform="translate(77.4 2637.3) rotate(-90)" text-anchor="middle" font-family="'DejaVu Sans', 'Liberation Sans', sans-serif" font-size="31.6">number frequency</text>
<rect x="676.5" y="2293.7" width="465" height="196.7" rx="5.5" fill="#fff" fill-opacity="0.8" stroke="#d4d4d4" stroke-width="1.7"/>
<rect x="689.7" y="2307.4" width="63.4" height="23.2" fill="#ff0000"/>
<text x="779.3" y="2329.7" font-family="'DejaVu Sans', 'Liberation Sans', sans-serif" font-size="31.7">Hillert</text>
<rect x="689.7" y="2354.3" width="63.4" height="23.2" fill="#008000"/>
<text x="779.3" y="2376.6" font-family="'DejaVu Sans', 'Liberation Sans', sans-serif" font-size="31.7">Abbruzzese</text>
<rect x="689.7" y="2401.2" width="63.4" height="23.2" fill="#0000ff"/>
<text x="779.3" y="2423.5" font-family="'DejaVu Sans', 'Liberation Sans', sans-serif" font-size="31.7">Maire</text>
<rect x="689.7" y="2448.1" width="63.4" height="23.2" fill="#000000"/>
<text x="779.3" y="2470.4" font-family="'DejaVu Sans', 'Liberation Sans', sans-serif" font-size="31.7">3D Experimental data</text>
<g font-family="'Liberation Serif', 'DejaVu Serif', serif" fill="#000">
<text x="305.63" y="3248.9" font-size="77" textLength="85.14" lengthAdjust="spacingAndGlyphs">(<tspan font-weight="bold">e</tspan>)</text>
<text x="426.97" y="3248.9" font-size="77" textLength="40.06" lengthAdjust="spacingAndGlyphs">3</text>
<text x="484.84" y="3248.9" font-size="77" textLength="44.23" lengthAdjust="spacingAndGlyphs">h</text>
<text x="547.05" y="3248.9" font-size="77" textLength="60.54" lengthAdjust="spacingAndGlyphs">at</text>
<text x="624.58" y="3248.9" font-size="77" textLength="152.83" lengthAdjust="spacingAndGlyphs">1100</text>
<text x="796.35" y="3243.3" font-size="74" textLength="30.47" lengthAdjust="spacingAndGlyphs">°</text>
<text x="830.23" y="3248.9" font-size="77" textLength="73.13" lengthAdjust="spacingAndGlyphs">C.</text>
</g>
</g>
<g id="panel-f">
<clipPath id="clip-f"><rect x="1339.1" y="2276.9" width="984.4" height="718.8"/></clipPath>
<g clip-path="url(#clip-f)">
<path fill="#ff0000" shape-rendering="crispEdges" d="M1424.75 2983h11.28v12.7h-11.28zM1461.84 2965.03h11.28v30.67h-11.28zM1498.93 2926.93h11.28v68.77h-11.28zM1536.02 2857.69h11.28v138.01h-11.28zM1573.11 2713.93h11.28v281.77h-11.28zM1610.2 2656.91h11.28v338.79h-11.28zM1647.29 2685.9h11.28v309.8h-11.28zM1684.38 2643.01h11.28v352.69h-11.28zM1721.47 2589.82h11.28v405.88h-11.28zM1758.56 2833.73h11.28v161.97h-11.28zM1795.65 2950.89h11.28v44.81h-11.28zM1832.74 2966.71h11.28v28.99h-11.28zM1869.83 2916.63h11.28v79.07h-11.28zM1906.92 2917.59h11.28v78.11h-11.28zM1944.01 2937.96h11.28v57.74h-11.28z"/>
<path fill="#008000" shape-rendering="crispEdges" d="M1436.03 2992.11h11.28v3.59h-11.28zM1473.12 2981.08h11.28v14.62h-11.28zM1510.21 2954.73h11.28v40.97h-11.28zM1547.3 2908.73h11.28v86.97h-11.28zM1584.39 2844.03h11.28v151.67h-11.28zM1621.48 2755.86h11.28v239.84h-11.28zM1658.57 2708.9h11.28v286.8h-11.28zM1695.66 2683.98h11.28v311.72h-11.28zM1732.75 2797.79h11.28v197.91h-11.28zM1769.84 2848.83h11.28v146.87h-11.28zM1806.93 2850.98h11.28v144.72h-11.28zM1844.02 2760.89h11.28v234.81h-11.28zM1881.11 2808.81h11.28v186.89h-11.28zM1918.2 2782.22h11.28v213.48h-11.28zM1955.29 2866.08h11.28v129.62h-11.28z"/>
<path fill="#0000ff" shape-rendering="crispEdges" d="M1447.3 2993.3h11.28v2.4h-11.28zM1484.39 2983h11.28v12.7h-11.28zM1521.48 2960h11.28v35.7h-11.28zM1558.57 2924.78h11.28v70.92h-11.28zM1595.66 2885.96h11.28v109.74h-11.28zM1632.75 2841.16h11.28v154.54h-11.28zM1669.84 2775.99h11.28v219.71h-11.28zM1706.93 2775.03h11.28v220.67h-11.28zM1744.02 2825.82h11.28v169.88h-11.28zM1781.11 2880.93h11.28v114.77h-11.28zM1818.2 2864.88h11.28v130.82h-11.28zM1855.29 2855.77h11.28v139.93h-11.28zM1892.38 2770.72h11.28v224.98h-11.28zM1929.47 2794.92h11.28v200.78h-11.28zM1966.56 2763.05h11.28v232.65h-11.28zM2003.65 2769.76h11.28v225.94h-11.28zM2040.74 2871.83h11.28v123.87h-11.28z"/>
<path stroke="#000" stroke-width="1.8" fill="none" d="M1422.29 2995.7V2992.11M1459.38 2995.7V2986.12M1496.47 2995.7V2963.35M1533.56 2995.7V2931.49M1570.65 2995.7V2877.34M1607.74 2995.7V2850.98M1644.83 2995.7V2887.88M1681.92 2995.7V2804.98M1719.01 2995.7V2883.33M1756.1 2995.7V2807.13M1793.19 2995.7V2832.05M1830.28 2995.7V2821.51M1867.37 2995.7V2825.1M1904.46 2995.7V2839M1941.55 2995.7V2935.56M1978.64 2995.7V2915.91M2015.73 2995.7V2922.86M2052.82 2995.7V2920.47M2089.91 2995.7V2886.2M2127 2995.7V2942.03M2164.09 2995.7V2933.88M2201.18 2995.7V2899.14M2275.36 2995.7V2887.16"/>
<g fill="#000"><circle cx="1385.2" cy="2995.7" r="5"/><circle cx="1422.29" cy="2992.11" r="5"/><circle cx="1459.38" cy="2986.12" r="5"/><circle cx="1496.47" cy="2963.35" r="5"/><circle cx="1533.56" cy="2931.49" r="5"/><circle cx="1570.65" cy="2877.34" r="5"/><circle cx="1607.74" cy="2850.98" r="5"/><circle cx="1644.83" cy="2887.88" r="5"/><circle cx="1681.92" cy="2804.98" r="5"/><circle cx="1719.01" cy="2883.33" r="5"/><circle cx="1756.1" cy="2807.13" r="5"/><circle cx="1793.19" cy="2832.05" r="5"/><circle cx="1830.28" cy="2821.51" r="5"/><circle cx="1867.37" cy="2825.1" r="5"/><circle cx="1904.46" cy="2839" r="5"/><circle cx="1941.55" cy="2935.56" r="5"/><circle cx="1978.64" cy="2915.91" r="5"/><circle cx="2015.73" cy="2922.86" r="5"/><circle cx="2052.82" cy="2920.47" r="5"/><circle cx="2089.91" cy="2886.2" r="5"/><circle cx="2127" cy="2942.03" r="5"/><circle cx="2164.09" cy="2933.88" r="5"/><circle cx="2201.18" cy="2899.14" r="5"/><circle cx="2238.27" cy="2995.7" r="5"/><circle cx="2275.36" cy="2887.16" r="5"/></g>
</g>
<rect x="1339.1" y="2276.9" width="984.4" height="718.8" fill="none" stroke="#000" stroke-width="1.4"/>
<path stroke="#000" stroke-width="1.4" fill="none" d="M1331.6 2995.7H1339.1M1331.6 2875.9H1339.1M1331.6 2756.1H1339.1M1331.6 2636.3H1339.1M1331.6 2516.5H1339.1M1331.6 2396.7H1339.1M1331.6 2276.9H1339.1M1339.1 2995.7V3003.2M1508.5 2995.7V3003.2M1677.9 2995.7V3003.2M1847.3 2995.7V3003.2M2016.7 2995.7V3003.2M2186.1 2995.7V3003.2"/>
<g font-family="'DejaVu Sans', 'Liberation Sans', sans-serif" font-size="29.7" fill="#000">
<text transform="translate(1325.3 3007.5) scale(1 1.04)" text-anchor="end">0.00</text>
<text transform="translate(1325.3 2887.7) scale(1 1.04)" text-anchor="end">0.05</text>
<text transform="translate(1325.3 2767.9) scale(1 1.04)" text-anchor="end">0.10</text>
<text transform="translate(1325.3 2648.1) scale(1 1.04)" text-anchor="end">0.15</text>
<text transform="translate(1325.3 2528.3) scale(1 1.04)" text-anchor="end">0.20</text>
<text transform="translate(1325.3 2408.5) scale(1 1.04)" text-anchor="end">0.25</text>
<text transform="translate(1325.3 2288.7) scale(1 1.04)" text-anchor="end">0.30</text>
<text transform="translate(1339.1 3033) scale(1 1.04)" text-anchor="middle">0</text>
<text transform="translate(1508.5 3033) scale(1 1.04)" text-anchor="middle">50</text>
<text transform="translate(1677.9 3033) scale(1 1.04)" text-anchor="middle">100</text>
<text transform="translate(1847.3 3033) scale(1 1.04)" text-anchor="middle">150</text>
<text transform="translate(2016.7 3033) scale(1 1.04)" text-anchor="middle">200</text>
<text transform="translate(2186.1 3033) scale(1 1.04)" text-anchor="middle">250</text>
</g>
<text x="1832.3" y="3073.7" text-anchor="middle" font-family="'DejaVu Sans', 'Liberation Sans', sans-serif" font-size="31.6">D (<tspan font-style="italic">μ</tspan>m)</text>
<text transform="translate(1244.1 2637.3) rotate(-90)" text-anchor="middle" font-family="'DejaVu Sans', 'Liberation Sans', sans-serif" font-size="31.6">volume fraction</text>
<rect x="1843.5" y="2293.7" width="465" height="196.7" rx="5.5" fill="#fff" fill-opacity="0.8" stroke="#d4d4d4" stroke-width="1.7"/>
<rect x="1856.7" y="2307.4" width="63.4" height="23.2" fill="#ff0000"/>
<text x="1946.3" y="2329.7" font-family="'DejaVu Sans', 'Liberation Sans', sans-serif" font-size="31.7">Hillert</text>
<rect x="1856.7" y="2354.3" width="63.4" height="23.2" fill="#008000"/>
<text x="1946.3" y="2376.6" font-family="'DejaVu Sans', 'Liberation Sans', sans-serif" font-size="31.7">Abbruzzese</text>
<rect x="1856.7" y="2401.2" width="63.4" height="23.2" fill="#0000ff"/>
<text x="1946.3" y="2423.5" font-family="'DejaVu Sans', 'Liberation Sans', sans-serif" font-size="31.7">Maire</text>
<rect x="1856.7" y="2448.1" width="63.4" height="23.2" fill="#000000"/>
<text x="1946.3" y="2470.4" font-family="'DejaVu Sans', 'Liberation Sans', sans-serif" font-size="31.7">3D Experimental data</text>
<g font-family="'Liberation Serif', 'DejaVu Serif', serif" fill="#000">
<text x="1495.34" y="3248.9" font-size="77" textLength="76.42" lengthAdjust="spacingAndGlyphs">(<tspan font-weight="bold">f</tspan>)</text>
<text x="1588.77" y="3248.9" font-size="77" textLength="40.06" lengthAdjust="spacingAndGlyphs">3</text>
<text x="1646.34" y="3248.9" font-size="77" textLength="44.23" lengthAdjust="spacingAndGlyphs">h</text>
<text x="1708.55" y="3248.9" font-size="77" textLength="60.54" lengthAdjust="spacingAndGlyphs">at</text>
<text x="1786.08" y="3248.9" font-size="77" textLength="152.83" lengthAdjust="spacingAndGlyphs">1100</text>
<text x="1957.85" y="3243.3" font-size="74" textLength="30.47" lengthAdjust="spacingAndGlyphs">°</text>
<text x="1991.55" y="3248.9" font-size="77" textLength="56.09" lengthAdjust="spacingAndGlyphs">C</text>
</g>
</g>
<g id="panel-g">
<clipPath id="clip-g"><rect x="172.4" y="3381.5" width="984.3" height="719.8"/></clipPath>
<g clip-path="url(#clip-g)">
<path fill="#ff0000" shape-rendering="crispEdges" d="M197.74 4069.63h11.12v31.67h-11.12zM234.32 4021.4h11.12v79.9h-11.12zM270.9 4008.69h11.12v92.61h-11.12zM307.48 3953.26h11.12v148.04h-11.12zM344.06 3924.95h11.12v176.35h-11.12zM380.64 3860.41h11.12v240.89h-11.12zM417.22 3748.12h11.12v353.18h-11.12zM453.8 3771.39h11.12v329.91h-11.12zM490.38 3849.37h11.12v251.93h-11.12zM526.96 3924.23h11.12v177.07h-11.12zM563.54 3918.23h11.12v183.07h-11.12zM600.12 3961.18h11.12v140.12h-11.12zM636.7 3985.17h11.12v116.13h-11.12zM673.28 4078.27h11.12v23.03h-11.12zM709.86 4094.34h11.12v6.96h-11.12zM746.44 4094.34h11.12v6.96h-11.12zM783.02 4093.38h11.12v7.92h-11.12zM819.6 4093.62h11.12v7.68h-11.12zM856.18 4094.1h11.12v7.2h-11.12z"/>
<path fill="#008000" shape-rendering="crispEdges" d="M208.86 4079.47h11.12v21.83h-11.12zM245.44 4029.56h11.12v71.74h-11.12zM282.02 4013.48h11.12v87.82h-11.12zM318.6 3952.54h11.12v148.76h-11.12zM355.18 3920.15h11.12v181.15h-11.12zM391.76 3905.27h11.12v196.03h-11.12zM428.34 3868.56h11.12v232.74h-11.12zM464.92 3852.01h11.12v249.29h-11.12zM501.5 3824.42h11.12v276.88h-11.12zM538.08 3864.49h11.12v236.81h-11.12zM574.66 3925.19h11.12v176.11h-11.12zM611.24 3993.33h11.12v107.97h-11.12zM647.82 4041.56h11.12v59.74h-11.12zM684.4 4046.36h11.12v54.94h-11.12zM720.98 4048.51h11.12v52.79h-11.12zM757.56 4032.44h11.12v68.86h-11.12zM794.14 4049.23h11.12v52.07h-11.12zM830.72 4051.39h11.12v49.91h-11.12zM867.3 4067.47h11.12v33.83h-11.12zM903.88 4083.54h11.12v17.76h-11.12z"/>
<path fill="#0000ff" shape-rendering="crispEdges" d="M219.98 4052.35h11.12v48.95h-11.12zM256.56 4031.48h11.12v69.82h-11.12zM293.14 3978.21h11.12v123.09h-11.12zM329.72 3953.98h11.12v147.32h-11.12zM366.3 3945.34h11.12v155.96h-11.12zM402.88 3877.2h11.12v224.1h-11.12zM439.46 3879.12h11.12v222.18h-11.12zM476.04 3867.37h11.12v233.94h-11.12zM512.62 3872.4h11.12v228.9h-11.12zM549.2 3905.27h11.12v196.03h-11.12zM585.78 3963.34h11.12v137.96h-11.12zM622.36 4017.32h11.12v83.98h-11.12zM658.94 4036.52h11.12v64.78h-11.12zM695.52 4050.43h11.12v50.87h-11.12zM732.1 4059.55h11.12v41.75h-11.12zM768.68 4041.56h11.12v59.74h-11.12zM805.26 4025.48h11.12v75.82h-11.12zM841.84 4041.8h11.12v59.5h-11.12zM878.42 4059.55h11.12v41.75h-11.12zM915 4043.48h11.12v57.82h-11.12zM951.58 4069.63h11.12v31.67h-11.12zM988.16 4078.27h11.12v23.03h-11.12z"/>
<path stroke="#000" stroke-width="1.8" fill="none" d="M231.9 4101.3V3873.84M268.48 4101.3V3659.58M305.06 4101.3V3907.91M341.64 4101.3V3841.93M378.22 4101.3V3850.57M414.8 4101.3V3852.49M451.38 4101.3V3903.59M487.96 4101.3V3958.3M524.54 4101.3V4005.33M561.12 4101.3V4030.52M597.7 4101.3V4031.24M634.28 4101.3V4050.19M670.86 4101.3V4077.07M707.44 4101.3V4077.79M744.02 4101.3V4083.54M780.6 4101.3V4089.06M817.18 4101.3V4091.94M853.76 4101.3V4090.5M926.92 4101.3V4088.58M963.5 4101.3V4098.18M1036.66 4101.3V4097.46M1109.82 4101.3V4097.46"/>
<g fill="#000"><circle cx="231.9" cy="3873.84" r="5"/><circle cx="268.48" cy="3659.58" r="5"/><circle cx="305.06" cy="3907.91" r="5"/><circle cx="341.64" cy="3841.93" r="5"/><circle cx="378.22" cy="3850.57" r="5"/><circle cx="414.8" cy="3852.49" r="5"/><circle cx="451.38" cy="3903.59" r="5"/><circle cx="487.96" cy="3958.3" r="5"/><circle cx="524.54" cy="4005.33" r="5"/><circle cx="561.12" cy="4030.52" r="5"/><circle cx="597.7" cy="4031.24" r="5"/><circle cx="634.28" cy="4050.19" r="5"/><circle cx="670.86" cy="4077.07" r="5"/><circle cx="707.44" cy="4077.79" r="5"/><circle cx="744.02" cy="4083.54" r="5"/><circle cx="780.6" cy="4089.06" r="5"/><circle cx="817.18" cy="4091.94" r="5"/><circle cx="853.76" cy="4090.5" r="5"/><circle cx="890.34" cy="4100.58" r="5"/><circle cx="926.92" cy="4088.58" r="5"/><circle cx="963.5" cy="4098.18" r="5"/><circle cx="1000.08" cy="4100.58" r="5"/><circle cx="1036.66" cy="4097.46" r="5"/><circle cx="1073.24" cy="4100.58" r="5"/><circle cx="1109.82" cy="4097.46" r="5"/></g>
</g>
<rect x="172.4" y="3381.5" width="984.3" height="719.8" fill="none" stroke="#000" stroke-width="1.4"/>
<path stroke="#000" stroke-width="1.4" fill="none" d="M164.9 4101.3H172.4M164.9 3981.33H172.4M164.9 3861.37H172.4M164.9 3741.4H172.4M164.9 3621.43H172.4M164.9 3501.47H172.4M164.9 3381.5H172.4M172.4 4101.3V4108.8M350.2 4101.3V4108.8M528 4101.3V4108.8M705.8 4101.3V4108.8M883.6 4101.3V4108.8M1061.4 4101.3V4108.8"/>
<g font-family="'DejaVu Sans', 'Liberation Sans', sans-serif" font-size="29.7" fill="#000">
<text transform="translate(158.6 4113.1) scale(1 1.04)" text-anchor="end">0.00</text>
<text transform="translate(158.6 3993.13) scale(1 1.04)" text-anchor="end">0.05</text>
<text transform="translate(158.6 3873.17) scale(1 1.04)" text-anchor="end">0.10</text>
<text transform="translate(158.6 3753.2) scale(1 1.04)" text-anchor="end">0.15</text>
<text transform="translate(158.6 3633.23) scale(1 1.04)" text-anchor="end">0.20</text>
<text transform="translate(158.6 3513.27) scale(1 1.04)" text-anchor="end">0.25</text>
<text transform="translate(158.6 3393.3) scale(1 1.04)" text-anchor="end">0.30</text>
<text transform="translate(172.4 4138.6) scale(1 1.04)" text-anchor="middle">0</text>
<text transform="translate(350.2 4138.6) scale(1 1.04)" text-anchor="middle">50</text>
<text transform="translate(528 4138.6) scale(1 1.04)" text-anchor="middle">100</text>
<text transform="translate(705.8 4138.6) scale(1 1.04)" text-anchor="middle">150</text>
<text transform="translate(883.6 4138.6) scale(1 1.04)" text-anchor="middle">200</text>
<text transform="translate(1061.4 4138.6) scale(1 1.04)" text-anchor="middle">250</text>
</g>
<text x="665.55" y="4179.9" text-anchor="middle" font-family="'DejaVu Sans', 'Liberation Sans', sans-serif" font-size="31.6">D (<tspan font-style="italic">μ</tspan>m)</text>
<text transform="translate(77.4 3742.4) rotate(-90)" text-anchor="middle" font-family="'DejaVu Sans', 'Liberation Sans', sans-serif" font-size="31.6">number frequency</text>
<rect x="676.7" y="3398.3" width="465" height="196.7" rx="5.5" fill="#fff" fill-opacity="0.8" stroke="#d4d4d4" stroke-width="1.7"/>
<rect x="689.9" y="3412" width="63.4" height="23.2" fill="#ff0000"/>
<text x="779.5" y="3434.3" font-family="'DejaVu Sans', 'Liberation Sans', sans-serif" font-size="31.7">Hillert</text>
<rect x="689.9" y="3458.9" width="63.4" height="23.2" fill="#008000"/>
<text x="779.5" y="3481.2" font-family="'DejaVu Sans', 'Liberation Sans', sans-serif" font-size="31.7">Abbruzzese</text>
<rect x="689.9" y="3505.8" width="63.4" height="23.2" fill="#0000ff"/>
<text x="779.5" y="3528.1" font-family="'DejaVu Sans', 'Liberation Sans', sans-serif" font-size="31.7">Maire</text>
<rect x="689.9" y="3552.7" width="63.4" height="23.2" fill="#000000"/>
<text x="779.5" y="3575" font-family="'DejaVu Sans', 'Liberation Sans', sans-serif" font-size="31.7">3D Experimental data</text>
<g font-family="'Liberation Serif', 'DejaVu Serif', serif" fill="#000">
<text x="302.02" y="4354.8" font-size="77" textLength="89.77" lengthAdjust="spacingAndGlyphs">(<tspan font-weight="bold">g</tspan>)</text>
<text x="427.23" y="4354.8" font-size="77" textLength="41.08" lengthAdjust="spacingAndGlyphs">5</text>
<text x="486.74" y="4354.8" font-size="77" textLength="44.23" lengthAdjust="spacingAndGlyphs">h</text>
<text x="548.95" y="4354.8" font-size="77" textLength="60.54" lengthAdjust="spacingAndGlyphs">at</text>
<text x="626.48" y="4354.8" font-size="77" textLength="152.83" lengthAdjust="spacingAndGlyphs">1100</text>
<text x="798.25" y="4349.2" font-size="74" textLength="30.47" lengthAdjust="spacingAndGlyphs">°</text>
<text x="832.13" y="4354.8" font-size="77" textLength="73.13" lengthAdjust="spacingAndGlyphs">C.</text>
</g>
</g>
<g id="panel-h">
<clipPath id="clip-h"><rect x="1339.1" y="3381.5" width="984.1" height="719.8"/></clipPath>
<g clip-path="url(#clip-h)">
<path fill="#ff0000" shape-rendering="crispEdges" d="M1438.48 4098.42h11.11v2.88h-11.11zM1475.04 4089.3h11.11v12h-11.11zM1511.6 4068.43h11.11v32.87h-11.11zM1548.16 4027.16h11.11v74.14h-11.11zM1584.72 3943.18h11.11v158.12h-11.11zM1621.28 3876.72h11.11v224.58h-11.11zM1657.84 3843.85h11.11v257.45h-11.11zM1694.4 3854.17h11.11v247.13h-11.11zM1730.96 3788.91h11.11v312.39h-11.11zM1767.52 3786.03h11.11v315.27h-11.11zM1804.08 3758.92h11.11v342.38h-11.11zM1840.64 4013.24h11.11v88.06h-11.11zM1877.2 4066.27h11.11v35.03h-11.11zM1913.76 4069.15h11.11v32.15h-11.11zM1950.32 4015.16h11.11v86.14h-11.11zM1986.88 4023.08h11.11v78.22h-11.11zM2023.44 4023.08h11.11v78.22h-11.11zM2060 4094.58h11.11v6.72h-11.11z"/>
<path fill="#008000" shape-rendering="crispEdges" d="M1449.59 4100.1h11.11v1.2h-11.11zM1486.15 4094.34h11.11v6.96h-11.11zM1522.71 4083.31h11.11v18h-11.11zM1559.27 4064.35h11.11v36.95h-11.11zM1595.83 4034.12h11.11v67.18h-11.11zM1632.39 4001.25h11.11v100.05h-11.11zM1668.95 3939.11h11.11v162.19h-11.11zM1705.51 3887.28h11.11v214.02h-11.11zM1742.07 3887.28h11.11v214.02h-11.11zM1778.63 3959.26h11.11v142.04h-11.11zM1815.19 3975.81h11.11v125.49h-11.11zM1851.75 3971.98h11.11v129.32h-11.11zM1888.31 3955.18h11.11v146.12h-11.11zM1924.87 3845.05h11.11v256.25h-11.11zM1961.43 3883.68h11.11v217.62h-11.11zM1997.99 3857.05h11.11v244.25h-11.11zM2034.55 3910.07h11.11v191.23h-11.11zM2071.11 3983.25h11.11v118.05h-11.11z"/>
<path fill="#0000ff" shape-rendering="crispEdges" d="M1460.71 4100.1h11.11v1.2h-11.11zM1497.27 4095.54h11.11v5.76h-11.11zM1533.83 4087.38h11.11v13.92h-11.11zM1570.39 4070.35h11.11v30.95h-11.11zM1606.95 4051.15h11.11v50.15h-11.11zM1643.51 4020.2h11.11v81.1h-11.11zM1680.07 3994.05h11.11v107.25h-11.11zM1716.63 3968.14h11.11v133.16h-11.11zM1753.19 3982.05h11.11v119.25h-11.11zM1789.75 4013.24h11.11v88.06h-11.11zM1826.31 4002.93h11.11v98.37h-11.11zM1862.87 3989.97h11.11v111.33h-11.11zM1899.43 3992.85h11.11v108.45h-11.11zM1935.99 3946.3h11.11v155h-11.11zM1972.55 3862.09h11.11v239.21h-11.11zM2009.11 3878.16h11.11v223.14h-11.11zM2045.67 3919.91h11.11v181.39h-11.11zM2082.23 3809.78h11.11v291.52h-11.11zM2118.79 3909.11h11.11v192.19h-11.11zM2155.35 3942.22h11.11v159.08h-11.11z"/>
<path stroke="#000" stroke-width="1.8" fill="none" d="M1436.06 4101.3V4095.54M1472.62 4101.3V4090.98M1509.18 4101.3V4068.43M1545.74 4101.3V4043.96M1582.3 4101.3V3997.17M1618.86 4101.3V3980.85M1655.42 4101.3V3945.58M1691.98 4101.3V3941.98M1728.54 4101.3V3978.93M1765.1 4101.3V3895.92M1801.66 4101.3V3898.32M1838.22 4101.3V4001.01M1874.78 4101.3V3961.66M1911.34 4101.3V3989.25M1947.9 4101.3V4001.01M1984.46 4101.3V4024.28M2021.02 4101.3V3979.89M2057.58 4101.3V4095.3M2094.14 4101.3V3892.08M2130.7 4101.3V4017.8M2167.26 4101.3V4081.87M2203.82 4101.3V3991.65M2276.94 4101.3V3945.58"/>
<g fill="#000"><circle cx="1399.5" cy="4101.3" r="5"/><circle cx="1436.06" cy="4095.54" r="5"/><circle cx="1472.62" cy="4090.98" r="5"/><circle cx="1509.18" cy="4068.43" r="5"/><circle cx="1545.74" cy="4043.96" r="5"/><circle cx="1582.3" cy="3997.17" r="5"/><circle cx="1618.86" cy="3980.85" r="5"/><circle cx="1655.42" cy="3945.58" r="5"/><circle cx="1691.98" cy="3941.98" r="5"/><circle cx="1728.54" cy="3978.93" r="5"/><circle cx="1765.1" cy="3895.92" r="5"/><circle cx="1801.66" cy="3898.32" r="5"/><circle cx="1838.22" cy="4001.01" r="5"/><circle cx="1874.78" cy="3961.66" r="5"/><circle cx="1911.34" cy="3989.25" r="5"/><circle cx="1947.9" cy="4001.01" r="5"/><circle cx="1984.46" cy="4024.28" r="5"/><circle cx="2021.02" cy="3979.89" r="5"/><circle cx="2057.58" cy="4095.3" r="5"/><circle cx="2094.14" cy="3892.08" r="5"/><circle cx="2130.7" cy="4017.8" r="5"/><circle cx="2167.26" cy="4081.87" r="5"/><circle cx="2203.82" cy="3991.65" r="5"/><circle cx="2240.38" cy="4101.3" r="5"/><circle cx="2276.94" cy="3945.58" r="5"/></g>
</g>
<rect x="1339.1" y="3381.5" width="984.1" height="719.8" fill="none" stroke="#000" stroke-width="1.4"/>
<path stroke="#000" stroke-width="1.4" fill="none" d="M1331.6 4101.3H1339.1M1331.6 3981.33H1339.1M1331.6 3861.37H1339.1M1331.6 3741.4H1339.1M1331.6 3621.43H1339.1M1331.6 3501.47H1339.1M1331.6 3381.5H1339.1M1339.1 4101.3V4108.8M1517.3 4101.3V4108.8M1695.5 4101.3V4108.8M1873.7 4101.3V4108.8M2051.9 4101.3V4108.8M2230.1 4101.3V4108.8"/>
<g font-family="'DejaVu Sans', 'Liberation Sans', sans-serif" font-size="29.7" fill="#000">
<text transform="translate(1325.3 4113.1) scale(1 1.04)" text-anchor="end">0.00</text>
<text transform="translate(1325.3 3993.13) scale(1 1.04)" text-anchor="end">0.05</text>
<text transform="translate(1325.3 3873.17) scale(1 1.04)" text-anchor="end">0.10</text>
<text transform="translate(1325.3 3753.2) scale(1 1.04)" text-anchor="end">0.15</text>
<text transform="translate(1325.3 3633.23) scale(1 1.04)" text-anchor="end">0.20</text>
<text transform="translate(1325.3 3513.27) scale(1 1.04)" text-anchor="end">0.25</text>
<text transform="translate(1325.3 3393.3) scale(1 1.04)" text-anchor="end">0.30</text>
<text transform="translate(1339.1 4138.6) scale(1 1.04)" text-anchor="middle">0</text>
<text transform="translate(1517.3 4138.6) scale(1 1.04)" text-anchor="middle">50</text>
<text transform="translate(1695.5 4138.6) scale(1 1.04)" text-anchor="middle">100</text>
<text transform="translate(1873.7 4138.6) scale(1 1.04)" text-anchor="middle">150</text>
<text transform="translate(2051.9 4138.6) scale(1 1.04)" text-anchor="middle">200</text>
<text transform="translate(2230.1 4138.6) scale(1 1.04)" text-anchor="middle">250</text>
</g>
<text x="1832.15" y="4179.9" text-anchor="middle" font-family="'DejaVu Sans', 'Liberation Sans', sans-serif" font-size="31.6">D (<tspan font-style="italic">μ</tspan>m)</text>
<text transform="translate(1244.1 3742.4) rotate(-90)" text-anchor="middle" font-family="'DejaVu Sans', 'Liberation Sans', sans-serif" font-size="31.6">volume fraction</text>
<rect x="1843.2" y="3398.3" width="465" height="196.7" rx="5.5" fill="#fff" fill-opacity="0.8" stroke="#d4d4d4" stroke-width="1.7"/>
<rect x="1856.4" y="3412" width="63.4" height="23.2" fill="#ff0000"/>
<text x="1946" y="3434.3" font-family="'DejaVu Sans', 'Liberation Sans', sans-serif" font-size="31.7">Hillert</text>
<rect x="1856.4" y="3458.9" width="63.4" height="23.2" fill="#008000"/>
<text x="1946" y="3481.2" font-family="'DejaVu Sans', 'Liberation Sans', sans-serif" font-size="31.7">Abbruzzese</text>
<rect x="1856.4" y="3505.8" width="63.4" height="23.2" fill="#0000ff"/>
<text x="1946" y="3528.1" font-family="'DejaVu Sans', 'Liberation Sans', sans-serif" font-size="31.7">Maire</text>
<rect x="1856.4" y="3552.7" width="63.4" height="23.2" fill="#000000"/>
<text x="1946" y="3575" font-family="'DejaVu Sans', 'Liberation Sans', sans-serif" font-size="31.7">3D Experimental data</text>
<g font-family="'Liberation Serif', 'DejaVu Serif', serif" fill="#000">
<text x="1477.98" y="4354.8" font-size="77" textLength="92.34" lengthAdjust="spacingAndGlyphs">(<tspan font-weight="bold">h</tspan>)</text>
<text x="1605.63" y="4354.8" font-size="77" textLength="41.08" lengthAdjust="spacingAndGlyphs">5</text>
<text x="1664.94" y="4354.8" font-size="77" textLength="44.23" lengthAdjust="spacingAndGlyphs">h</text>
<text x="1727.15" y="4354.8" font-size="77" textLength="60.54" lengthAdjust="spacingAndGlyphs">at</text>
<text x="1804.68" y="4354.8" font-size="77" textLength="152.83" lengthAdjust="spacingAndGlyphs">1100</text>
<text x="1976.45" y="4349.2" font-size="74" textLength="30.47" lengthAdjust="spacingAndGlyphs">°</text>
<text x="2010.15" y="4354.8" font-size="77" textLength="56.09" lengthAdjust="spacingAndGlyphs">C</text>
</g>
</g>
</svg>
</body></html>
